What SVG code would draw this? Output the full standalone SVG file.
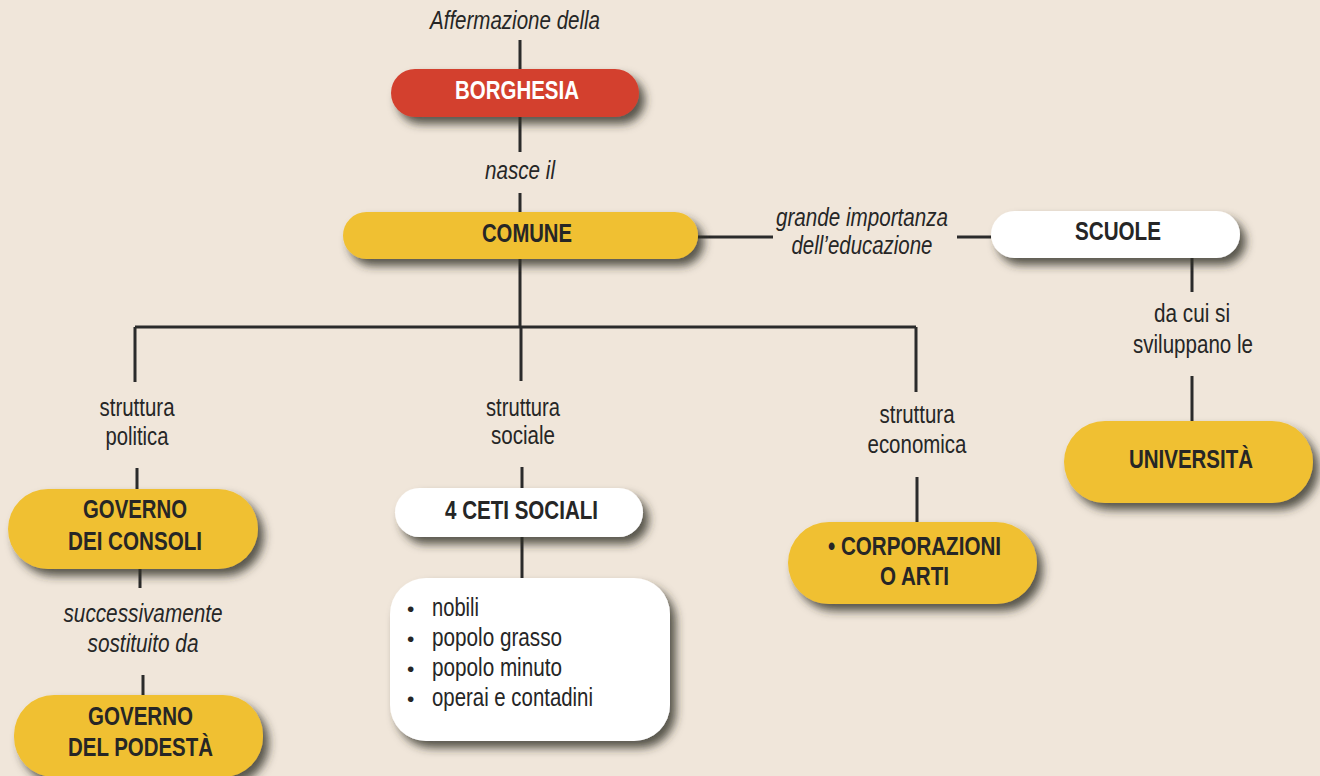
<svg xmlns="http://www.w3.org/2000/svg" width="1320" height="776" viewBox="0 0 1320 776">
<defs>
<filter id="sh" x="-20%" y="-40%" width="150%" height="200%">
<feDropShadow dx="6" dy="7" stdDeviation="5" flood-color="#332e27" flood-opacity="0.8"/>
</filter>
<style>
text{font-family:"Liberation Sans Narrow","Liberation Sans",Arial,sans-serif;font-size:25px;fill:#262626;text-anchor:middle}
.b{font-weight:bold}
.i{font-style:italic}
.w{fill:#ffffff}
.l{text-anchor:start}
.yel{fill:#f0c033}
.red{fill:#d3402f}
.wh{fill:#ffffff}
.c{stroke:#2b2b2b;stroke-width:3;fill:none}
</style>
</defs>
<rect width="1320" height="776" fill="#f0e6da"/>
<g id="connectors">
<path class="c" d="M520 40V69M520 117V152M520 193V212M520 259V327M135 327H916M135 327V382M521 327V381M916 327V392M137 468V489M522 467V489M917 477V522M140 569V588M143 675V695M522 537V578M698 237H773M957 237H991M1192 258V292M1192 376V421"/>
</g>
<g id="labels">
<text class="i" x="515" y="29" textLength="170" lengthAdjust="spacingAndGlyphs">Affermazione della</text>
<text class="i" x="520" y="179" textLength="70" lengthAdjust="spacingAndGlyphs">nasce il</text>
<text class="i" x="862" y="226" textLength="172" lengthAdjust="spacingAndGlyphs">grande importanza</text>
<text class="i" x="862" y="254" textLength="141" lengthAdjust="spacingAndGlyphs">dell’educazione</text>
<text x="137" y="416" textLength="75" lengthAdjust="spacingAndGlyphs">struttura</text>
<text x="137" y="445" textLength="63" lengthAdjust="spacingAndGlyphs">politica</text>
<text x="523" y="416" textLength="74" lengthAdjust="spacingAndGlyphs">struttura</text>
<text x="523" y="444" textLength="64" lengthAdjust="spacingAndGlyphs">sociale</text>
<text x="917" y="423" textLength="75" lengthAdjust="spacingAndGlyphs">struttura</text>
<text x="917" y="453" textLength="99" lengthAdjust="spacingAndGlyphs">economica</text>
<text class="i" x="143" y="622" textLength="159" lengthAdjust="spacingAndGlyphs">successivamente</text>
<text class="i" x="143" y="652" textLength="111" lengthAdjust="spacingAndGlyphs">sostituito da</text>
<text x="1192" y="322" textLength="76" lengthAdjust="spacingAndGlyphs">da cui si</text>
<text x="1193" y="353" textLength="120" lengthAdjust="spacingAndGlyphs">sviluppano le</text>
</g>
<g id="borghesia">
<rect class="red" x="391" y="69" width="248" height="48" rx="24" filter="url(#sh)"/>
<text class="b w" x="517" y="99" textLength="124" lengthAdjust="spacingAndGlyphs">BORGHESIA</text>
</g>
<g id="comune">
<rect class="yel" x="343" y="212" width="355" height="47" rx="23.5" filter="url(#sh)"/>
<text class="b" x="527" y="242" textLength="90" lengthAdjust="spacingAndGlyphs">COMUNE</text>
</g>
<g id="scuole">
<rect class="wh" x="991" y="211" width="249" height="47" rx="23.5" filter="url(#sh)"/>
<text class="b" x="1118" y="240" textLength="86" lengthAdjust="spacingAndGlyphs">SCUOLE</text>
</g>
<g id="universita">
<rect class="yel" x="1064" y="421" width="249" height="82" rx="41" filter="url(#sh)"/>
<text class="b" x="1191" y="468" textLength="124" lengthAdjust="spacingAndGlyphs">UNIVERSITÀ</text>
</g>
<g id="consoli">
<rect class="yel" x="8" y="489" width="250" height="80" rx="40" filter="url(#sh)"/>
<text class="b" x="135" y="518" textLength="104" lengthAdjust="spacingAndGlyphs">GOVERNO</text>
<text class="b" x="135" y="550" textLength="134" lengthAdjust="spacingAndGlyphs">DEI CONSOLI</text>
</g>
<g id="podesta">
<rect class="yel" x="14" y="695" width="249" height="82" rx="40" filter="url(#sh)"/>
<text class="b" x="140.5" y="725" textLength="105" lengthAdjust="spacingAndGlyphs">GOVERNO</text>
<text class="b" x="140.5" y="756" textLength="145" lengthAdjust="spacingAndGlyphs">DEL PODESTÀ</text>
</g>
<g id="ceti">
<rect class="wh" x="395" y="488" width="248" height="49" rx="24.5" filter="url(#sh)"/>
<text class="b" x="521.5" y="519" textLength="153" lengthAdjust="spacingAndGlyphs">4 CETI SOCIALI</text>
</g>
<g id="lista">
<rect class="wh" x="390" y="578" width="280" height="163" rx="36" filter="url(#sh)"/>
<text class="l" x="407" y="616" style="font-size:21px">•</text>
<text class="l" x="432" y="616" textLength="47" lengthAdjust="spacingAndGlyphs">nobili</text>
<text class="l" x="407" y="646" style="font-size:21px">•</text>
<text class="l" x="432" y="646" textLength="130" lengthAdjust="spacingAndGlyphs">popolo grasso</text>
<text class="l" x="407" y="676" style="font-size:21px">•</text>
<text class="l" x="432" y="676" textLength="130" lengthAdjust="spacingAndGlyphs">popolo minuto</text>
<text class="l" x="407" y="706" style="font-size:21px">•</text>
<text class="l" x="432" y="706" textLength="161" lengthAdjust="spacingAndGlyphs">operai e contadini</text>
</g>
<g id="corporazioni">
<rect class="yel" x="788" y="522" width="249" height="82" rx="41" filter="url(#sh)"/>
<text class="b" x="914.5" y="555" textLength="173" lengthAdjust="spacingAndGlyphs">• CORPORAZIONI</text>
<text class="b" x="914.5" y="585" textLength="69" lengthAdjust="spacingAndGlyphs">O ARTI</text>
</g>
</svg>
